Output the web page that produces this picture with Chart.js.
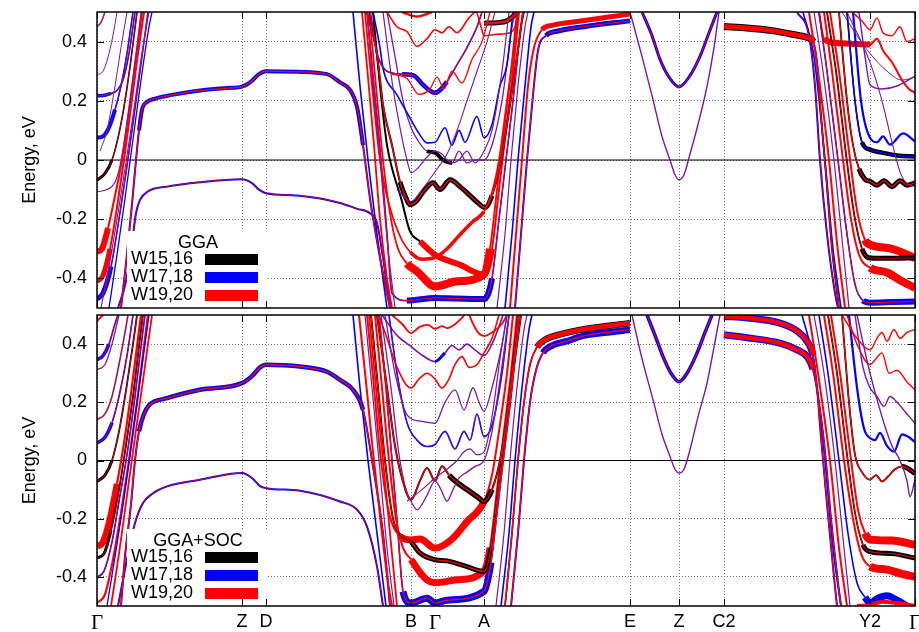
<!DOCTYPE html>
<html>
<head>
<meta charset="utf-8">
<script src="https://cdn.jsdelivr.net/npm/chart.js@4.4.1/dist/chart.umd.min.js"></script>
<style>
  body { margin: 0; background: #fff; }
  .panel { position: absolute; left: 0; width: 919px; }
</style>
</head>
<body>
<div class="panel" style="top:0;height:312px"><canvas id="ggaChart" width="919" height="312"></canvas></div>
<div class="panel" style="top:312px;height:320px"><canvas id="socChart" width="919" height="320"></canvas></div>
<script>
// Camino de puntos k y etiquetas
const kPoints = [0, 145, 169, 314, 338, 387, 533, 582, 627, 773, 818];
const kLabels = ["Γ", "Z", "D", "B", "Γ", "A", "E", "Z", "C2", "Y2", "Γ"];
const energyTicks = [-0.4, -0.2, 0, 0.2, 0.4];
const energyLabels = ["-0.4", "-0.2", "0", "0.2", "0.4"];
const seriesNames = ["W15,16", "W17,18", "W19,20"];
const panelTitles = ["GGA", "GGA+SOC"];

// ---- bandas GGA: [k, E(eV)] ----
const ggaFan1 = [[0,0.45],[4,0.465],[8,0.5]];
const ggaFan2 = [[0,0.288],[6,0.3],[12,0.36],[17,0.44],[20,0.5]];
const ggaFan3 = [[0,0.217],[8,0.219],[14,0.225],[20,0.235],[26,0.27],[32,0.36],[38,0.5]];
const ggaFan4 = [[0,0.075],[6,0.08],[12,0.11],[18,0.17],[24,0.25],[30,0.36],[36,0.5]];
const ggaFan5 = [[0,-0.068],[8,-0.045],[15,0],[22,0.09],[28,0.2],[34,0.34],[40,0.5]];
const ggaFan6 = [[0,-0.107],[10,-0.1],[18,-0.075],[23,-0.02],[28,0.08],[34,0.22],[40,0.38],[44,0.5]];
const ggaFan7 = [[0,-0.31],[5,-0.3],[11,-0.23],[18,-0.12],[25,0],[32,0.17],[39,0.35],[45,0.5]];
const ggaFan8 = [[0,-0.41],[6,-0.39],[13,-0.3],[20,-0.16],[27,0],[34,0.18],[41,0.36],[47,0.5]];
const ggaFan9 = [[0,-0.47],[6,-0.45],[14,-0.36],[22,-0.2],[30,-0.02],[37,0.15],[45,0.35],[51,0.5]];
const ggaFan10 = [[4,-0.5],[12,-0.36],[20,-0.2],[28,-0.03],[36,0.15],[44,0.34],[52,0.5]];
const ggaFan11 = [[12,-0.5],[20,-0.32],[28,-0.13],[36,0.07],[44,0.27],[52,0.45],[55,0.5]];
const ggaFan12 = [[3,0.03],[10,0.1],[18,0.25],[24,0.38],[30,0.5]];
const ggaCond = [[24,-0.5],[29,-0.35],[35,-0.15],[39,0],[42,0.1],[45,0.17],[50,0.196],[58,0.207],[75,0.22],[103,0.235],[130,0.243],[145,0.248],[154,0.265],[162,0.29],[169,0.3],[200,0.298],[230,0.29],[243,0.262],[253,0.237],[260,0.18],[266,0.05],[273,-0.13],[283,-0.33],[290,-0.45],[293,-0.5]];
const ggaVal = [[21,-0.5],[29,-0.41],[35,-0.28],[39,-0.18],[43,-0.135],[51,-0.106],[70,-0.09],[103,-0.075],[145,-0.065],[155,-0.078],[162,-0.1],[169,-0.112],[200,-0.12],[243,-0.145],[260,-0.165],[273,-0.18],[280,-0.213],[286,-0.33],[292,-0.47],[294,-0.5]];
const ggaWall1 = [[256,0.5],[263,0.25],[271,0],[280,-0.25],[290,-0.5]];
const ggaWall2 = [[265,0.5],[271,0.28],[277,0.05],[283,-0.2],[290,-0.4],[295,-0.5]];
const ggaWall3 = [[270,0.5],[276,0.25],[283,0],[291,-0.3],[298,-0.5]];
const ggaU1 = [[273,0.5],[281,0.33],[286,0.186],[295,0.05],[303,-0.074],[308,-0.12],[313,-0.151],[319,-0.14],[328,-0.1],[336,-0.077],[343,-0.1],[353,-0.067],[363,-0.09],[373,-0.12],[381,-0.145],[388,-0.161],[395,-0.12],[403,-0.02],[413,0.186],[420,0.35],[426,0.5]];
const ggaU2 = [[286,0.5],[296,0.244],[305,0.075],[310,0],[314,-0.043],[320,-0.03],[330,0.01],[338,0.03],[345,0.02],[350,0],[355,-0.01],[362,0],[370,0.03],[378,-0.01],[387,0.03],[395,0.1],[405,0.3],[412,0.5]];
const ggaU3 = [[276,0.5],[283,0.38],[286,0.31],[300,0.22],[313,0.142],[322,0.09],[330,0.058],[338,0.06],[348,0.109],[355,0.05],[362,0.1],[368,0.06],[380,0.147],[387,0.075],[395,0.12],[403,0.25],[410,0.322],[416,0.5]];
const ggaU4 = [[290,0.5],[298,0.35],[306,0.2],[314,0.11],[322,0.06],[330,0.03],[338,0.025],[346,0],[355,-0.01],[362,0.03],[370,-0.01],[378,0],[387,0],[395,0.05],[405,0.2],[415,0.45],[418,0.5]];
const ggaU5 = [[300,-0.1],[314,-0.14],[325,-0.1],[338,-0.04],[350,0.02],[360,0.1],[370,0.2],[380,0.3],[390,0.4],[398,0.5]];
const ggaU6 = [[270,0.5],[276,0.42],[282,0.34],[290,0.3],[305,0.29],[317,0.285],[326,0.254],[338,0.227],[350,0.265],[360,0.322],[370,0.38],[380,0.45],[385,0.5]];
const ggaU7 = [[295,0.29],[310,0.275],[322,0.222],[333,0.24],[340,0.28],[347,0.24],[355,0.3],[365,0.26],[375,0.34],[385,0.4],[393,0.5]];
const ggaU8 = [[290,0.5],[300,0.45],[310,0.434],[320,0.384],[330,0.41],[338,0.44],[345,0.43],[352,0.45],[360,0.43],[372,0.48],[379,0.5],[384,0.45],[387,0.42],[400,0.425],[413,0.43],[418,0.45],[422,0.5]];
const ggaU9 = [[305,0.5],[320,0.485],[335,0.5]];
const ggaU10 = [[276,0.5],[283,0.25],[290,0.05],[296,-0.04],[304,-0.128],[313,-0.241],[323,-0.275],[338,-0.32],[363,-0.354],[387,-0.387],[395,-0.3],[402,-0.1],[409,0.1],[416,0.3],[422,0.5]];
const ggaU11 = [[268,0.5],[275,0.25],[283,0],[292,-0.15],[302,-0.25],[313,-0.31],[325,-0.335],[338,-0.33],[350,-0.3],[363,-0.252],[375,-0.21],[387,-0.174],[395,-0.11],[402,0],[410,0.2],[418,0.4],[421,0.5]];
const ggaU12 = [[272,0.5],[279,0.25],[286,0],[294,-0.2],[301,-0.3],[310,-0.35],[320,-0.376],[338,-0.427],[360,-0.41],[387,-0.387],[393,-0.3],[400,-0.1],[407,0.1],[414,0.3],[420,0.5]];
const ggaU13 = [[270,0.5],[277,0.25],[284,0],[290,-0.25],[295,-0.45],[310,-0.475],[338,-0.466],[360,-0.468],[387,-0.47],[395,-0.4],[402,-0.2],[409,0],[416,0.2],[424,0.45],[427,0.5]];
const ggaR1 = [[413,-0.5],[419,-0.25],[425,0],[431,0.25],[437,0.38],[445,0.44],[455,0.455],[480,0.468],[510,0.482],[533,0.493]];
const ggaR2 = [[418,-0.5],[424,-0.25],[430,0],[436,0.22],[441,0.37],[449,0.42],[460,0.435],[490,0.452],[533,0.47]];
const ggaR3 = [[400,-0.5],[408,-0.25],[414,0],[421,0.25],[428,0.45],[431,0.5]];
const ggaR4 = [[408,-0.5],[415,-0.25],[421,0],[428,0.25],[434,0.45],[437,0.5]];
const ggaTopA = [[387,0.462],[400,0.464],[410,0.47],[416,0.485],[420,0.5]];
const ggaPar1 = [[545,0.5],[555,0.42],[563,0.34],[572,0.28],[582,0.247],[592,0.28],[603,0.35],[612,0.43],[620,0.5]];
const ggaPar2 = [[533,0.5],[545,0.35],[556,0.204],[565,0.08],[573,0],[578,-0.05],[582,-0.067],[587,-0.05],[593,0.02],[601,0.12],[610,0.249],[617,0.38],[622,0.5]];
const ggaFlat = [[627,0.451],[650,0.446],[675,0.437],[695,0.425],[710,0.414],[716,0.4],[720,0.33],[724,0.15],[729,-0.05],[735,-0.3],[742,-0.5]];
const ggaS1 = [[700,0.5],[712,0.42],[718,0.25],[723,0],[730,-0.25],[738,-0.45],[741,-0.5]];
const ggaS2 = [[706,0.5],[717,0.35],[728,0],[736,-0.3],[744,-0.5]];
const ggaS3 = [[712,0.5],[721,0.3],[732,0],[740,-0.28],[748,-0.5]];
const ggaS4 = [[717,0.5],[726,0.3],[737,0],[746,-0.3],[752,-0.5]];
const ggaF1 = [[722,0.5],[730,0.3],[741,0],[750,-0.25],[758,-0.42],[766,-0.475],[773,-0.482],[795,-0.48],[818,-0.478]];
const ggaF2 = [[727,0.5],[735,0.3],[746,0],[754,-0.2],[762,-0.32],[773,-0.364],[790,-0.38],[805,-0.41],[818,-0.432]];
const ggaF3 = [[730,0.5],[739,0.3],[749,0.02],[757,-0.18],[765,-0.3],[773,-0.331],[795,-0.332],[818,-0.331]];
const ggaF4 = [[733,0.5],[742,0.3],[752,0.03],[760,-0.17],[768,-0.27],[773,-0.286],[795,-0.3],[818,-0.331]];
const ggaF5 = [[742,0.5],[750,0.2],[756,0.05],[762,-0.03],[768,-0.065],[773,-0.072],[780,-0.085],[787,-0.07],[795,-0.09],[803,-0.07],[810,-0.085],[818,-0.077]];
const ggaF6 = [[750,0.5],[758,0.2],[765,0.06],[773,0.035],[785,0.025],[800,0.015],[818,0.012]];
const ggaF7 = [[756,0.5],[764,0.2],[773,0.075],[780,0.06],[786,0.08],[793,0.052],[806,0.09],[818,0.063]];
const ggaF8 = [[762,0.5],[768,0.35],[773,0.254],[785,0.24],[800,0.25],[818,0.283]];
const ggaF9 = [[750,0.5],[773,0.33],[785,0.2],[795,0.06],[803,-0.04],[810,-0.08],[818,-0.089]];
const ggaF10 = [[722,0.5],[727,0.41],[740,0.395],[760,0.392],[773,0.39],[780,0.41],[786,0.37],[795,0.33],[805,0.27],[812,0.24],[818,0.227]];
const ggaF11 = [[755,0.5],[765,0.47],[773,0.44],[780,0.48],[786,0.43],[795,0.42],[803,0.45],[810,0.4],[818,0.41]];
const ggaF12 = [[745,0.5],[760,0.42],[773,0.36],[790,0.3],[805,0.27],[818,0.28]];

// ---- bandas GGA+SOC ----
const socFan1 = [[0,0.478],[3,0.49],[6,0.5]];
const socFan2 = [[0,0.346],[6,0.36],[12,0.4],[18,0.47],[21,0.5]];
const socFan3 = [[0,0.312],[8,0.33],[15,0.4],[22,0.5]];
const socFan4 = [[0,0.14],[8,0.16],[15,0.22],[22,0.33],[28,0.44],[31,0.5]];
const socFan5 = [[0,0.06],[8,0.08],[15,0.13],[22,0.22],[30,0.36],[36,0.5]];
const socFan6 = [[0,-0.072],[8,-0.05],[15,0],[22,0.1],[29,0.24],[36,0.4],[40,0.5]];
const socFan7 = [[0,-0.296],[6,-0.28],[13,-0.2],[20,-0.08],[27,0.06],[34,0.23],[41,0.42],[44,0.5]];
const socFan8 = [[0,-0.335],[7,-0.32],[14,-0.24],[21,-0.12],[28,0.03],[36,0.22],[43,0.42],[46,0.5]];
const socFan9 = [[0,-0.4],[7,-0.38],[15,-0.28],[22,-0.14],[30,0.02],[38,0.22],[45,0.42],[48,0.5]];
const socFan10 = [[0,-0.49],[8,-0.46],[16,-0.34],[24,-0.18],[32,0],[40,0.2],[48,0.42],[51,0.5]];
const socFan11 = [[10,-0.5],[18,-0.33],[27,-0.13],[35,0.07],[44,0.3],[52,0.5]];
const socFan12 = [[14,-0.5],[22,-0.32],[30,-0.12],[38,0.08],[47,0.3],[55,0.5]];
const socCond = [[24,-0.5],[28,-0.33],[34,-0.15],[38,0],[42,0.1],[47,0.16],[52,0.19],[70,0.214],[103,0.243],[145,0.266],[155,0.29],[163,0.32],[169,0.329],[203,0.323],[230,0.305],[243,0.277],[256,0.243],[266,0.174],[276,-0.02],[286,-0.25],[293,-0.5]];
const socVal = [[21,-0.5],[30,-0.34],[38,-0.215],[46,-0.146],[55,-0.115],[70,-0.089],[103,-0.066],[145,-0.043],[155,-0.06],[163,-0.088],[169,-0.095],[203,-0.104],[243,-0.141],[260,-0.169],[270,-0.227],[280,-0.364],[286,-0.5]];
const socWall1 = [[256,0.5],[263,0.25],[271,0],[280,-0.25],[289,-0.5]];
const socWall2 = [[262,0.5],[269,0.27],[276,0.03],[284,-0.22],[291,-0.42],[295,-0.5]];
const socWall3 = [[268,0.5],[275,0.25],[282,0],[290,-0.3],[297,-0.5]];
const socWall4 = [[272,0.5],[279,0.25],[286,0],[293,-0.25],[300,-0.5]];
const socU1 = [[295,0.5],[305,0.47],[314,0.438],[323,0.46],[331,0.466],[338,0.452],[345,0.462],[350,0.455],[357,0.466],[365,0.49],[370,0.51],[376,0.47],[381,0.44],[387,0.428],[395,0.44],[405,0.47],[410,0.5]];
const socU2 = [[285,0.5],[300,0.43],[314,0.392],[326,0.36],[338,0.34],[348,0.37],[355,0.395],[362,0.38],[370,0.4],[378,0.38],[387,0.36],[395,0.4],[403,0.47],[406,0.5]];
const socU3 = [[282,0.5],[290,0.42],[300,0.32],[314,0.249],[322,0.28],[330,0.3],[338,0.28],[345,0.249],[352,0.28],[358,0.33],[365,0.357],[372,0.32],[380,0.33],[387,0.37],[395,0.42],[402,0.5]];
const socU4 = [[288,0.5],[298,0.3],[310,0.157],[324,0.135],[338,0.128],[348,0.2],[358,0.243],[367,0.174],[376,0.25],[382,0.2],[387,0.17],[395,0.25],[405,0.4],[410,0.5]];
const socU5 = [[292,0.5],[300,0.3],[310,0.13],[320,0.07],[330,0.048],[338,0.055],[348,0.1],[358,0.04],[367,0.1],[373,0.07],[380,0.16],[387,0.082],[395,0.12],[405,0.3],[412,0.5]];
const socU6 = [[310,-0.14],[325,-0.1],[338,-0.06],[350,-0.03],[360,0],[367,0.03],[373,0.04],[380,0.02],[387,0.03],[395,0.15],[403,0.35],[410,0.5]];
const socX1 = [[280,0.5],[290,0.25],[298,0.05],[305,-0.06],[314,-0.135],[323,-0.07],[330,-0.026],[338,-0.07],[345,-0.02],[352,-0.05],[358,-0.07],[370,-0.1],[380,-0.124],[387,-0.141],[395,-0.1],[403,0],[410,0.15],[418,0.35],[424,0.5]];
const socX2 = [[284,0.5],[294,0.25],[302,0.02],[309,-0.1],[314,-0.14],[320,-0.169],[330,-0.12],[338,-0.07],[344,-0.1],[350,-0.14],[356,-0.1],[362,-0.06],[370,-0.04],[378,-0.02],[387,0],[395,0.1],[404,0.3],[412,0.5]];
const socLowRed = [[270,0.5],[277,0.25],[284,0],[292,-0.18],[303,-0.26],[314,-0.273],[323,-0.27],[338,-0.301],[355,-0.27],[370,-0.21],[387,-0.141],[395,-0.05],[402,0.1],[410,0.3],[416,0.5]];
const socLowBlack = [[274,0.5],[281,0.25],[288,0],[296,-0.2],[305,-0.26],[314,-0.28],[323,-0.318],[338,-0.341],[350,-0.345],[370,-0.365],[387,-0.381],[394,-0.3],[401,-0.1],[408,0.1],[415,0.3],[421,0.5]];
const socBotRed = [[278,0.5],[285,0.25],[292,0],[299,-0.2],[306,-0.3],[314,-0.34],[322,-0.38],[330,-0.41],[338,-0.42],[360,-0.41],[387,-0.38],[393,-0.3],[400,-0.1],[407,0.1],[414,0.3],[420,0.5]];
const socBotBlue = [[282,0.5],[289,0.25],[295,0],[301,-0.25],[306,-0.45],[314,-0.49],[330,-0.473],[338,-0.49],[350,-0.48],[387,-0.45],[394,-0.35],[401,-0.15],[408,0.05],[415,0.25],[422,0.5]];
const socR1 = [[408,-0.5],[415,-0.25],[421,0],[427,0.2],[433,0.33],[440,0.39],[448,0.415],[465,0.435],[483,0.449],[510,0.462],[533,0.472]];
const socR2 = [[414,-0.5],[421,-0.25],[427,0],[433,0.2],[439,0.31],[446,0.37],[455,0.395],[470,0.41],[483,0.426],[510,0.44],[533,0.449]];
const socR3 = [[399,-0.5],[407,-0.25],[413,0],[420,0.25],[427,0.45],[430,0.5]];
const socR4 = [[404,-0.5],[412,-0.25],[418,0],[425,0.25],[432,0.45],[435,0.5]];
const socPar1 = [[550,0.5],[558,0.43],[566,0.357],[574,0.3],[582,0.271],[590,0.3],[600,0.369],[608,0.44],[615,0.5]];
const socPar2 = [[535,0.5],[545,0.35],[556,0.209],[565,0.09],[573,0.014],[578,-0.03],[582,-0.043],[587,-0.03],[593,0.037],[601,0.15],[610,0.266],[617,0.39],[623,0.5]];
const socFlat1 = [[627,0.495],[650,0.49],[683,0.472],[700,0.445],[710,0.41],[716,0.36],[720,0.25],[724,0.08],[730,-0.15],[737,-0.4],[740,-0.5]];
const socFlat2 = [[627,0.432],[650,0.422],[683,0.403],[700,0.38],[710,0.357],[716,0.314],[722,0.2],[728,0.03],[734,-0.2],[741,-0.42],[744,-0.5]];
const socS2 = [[705,0.5],[716,0.35],[728,0],[736,-0.3],[744,-0.5]];
const socS3 = [[712,0.5],[721,0.3],[733,0],[742,-0.3],[750,-0.5]];
const socS4 = [[717,0.5],[727,0.3],[738,0],[747,-0.3],[753,-0.5]];
const socF1 = [[722,0.5],[731,0.3],[742,0],[751,-0.25],[760,-0.42],[768,-0.47],[773,-0.49],[780,-0.475],[790,-0.465],[800,-0.48],[810,-0.5]];
const socF1b = [[760,-0.5],[773,-0.497],[785,-0.485],[800,-0.49],[818,-0.5]];
const socF2 = [[727,0.5],[736,0.3],[747,0],[756,-0.2],[764,-0.32],[773,-0.364],[790,-0.375],[805,-0.39],[818,-0.4]];
const socF3 = [[731,0.5],[740,0.3],[750,0.02],[758,-0.18],[766,-0.29],[773,-0.313],[795,-0.32],[818,-0.335]];
const socF4 = [[734,0.5],[743,0.3],[753,0.03],[761,-0.17],[768,-0.25],[773,-0.272],[795,-0.275],[818,-0.29]];
const socF5 = [[745,0.5],[752,0.2],[758,0.02],[765,-0.04],[773,-0.066],[779,-0.05],[785,-0.072],[791,-0.055],[798,-0.03],[805,-0.02],[812,-0.03],[818,-0.045]];
const socF6 = [[760,0.5],[773,0.3],[785,0.15],[795,0.05],[803,0],[810,-0.07],[813,-0.125],[818,-0.066]];
const socF7 = [[752,0.5],[760,0.25],[767,0.11],[773,0.077],[778,0.07],[783,0.095],[790,0.05],[797,0.03],[805,0.09],[812,0.08],[818,0.063]];
const socF8 = [[758,0.5],[766,0.32],[773,0.25],[780,0.22],[787,0.186],[793,0.22],[800,0.2],[810,0.16],[818,0.128]];
const socF9 = [[750,0.5],[760,0.4],[773,0.33],[779,0.35],[785,0.37],[792,0.3],[800,0.31],[810,0.27],[818,0.243]];
const socF10 = [[745,0.5],[760,0.42],[773,0.38],[780,0.42],[785,0.44],[790,0.41],[797,0.45],[803,0.42],[810,0.44],[818,0.45]];

// colores
const BLACK = "#000000", BLUE = "#0000ff", RED = "#ff0000", PURPLE = "#7a16a6", WINE = "#a3124e";
const legendColors = [BLACK, BLUE, RED];

function band(data, color, width, opt) {
  return Object.assign({ data: data, color: color, width: width }, opt || {});
}

const ggaLayers = [
  band(ggaFan1, WINE, 1.5), band(ggaFan2, PURPLE, 1),
  band(ggaFan3, BLUE, 1.6, { fat: [0, 14, 3.5], inner: RED, innerWidth: 0.7 }),
  band(ggaFan4, BLUE, 1.6, { fat: [0, 14, 4], inner: PURPLE, innerWidth: 0.7 }),
  band(ggaFan5, BLACK, 1.6, { fat: [0, 10, 3], inner: RED, innerWidth: 0.7 }),
  band(ggaFan6, PURPLE, 1.2),
  band(ggaFan7, RED, 2, { fat: [0, 10, 6] }),
  band(ggaFan8, RED, 2, { fat: [0, 10, 5] }),
  band(ggaFan9, BLUE, 1.6, { fat: [0, 10, 5], inner: RED, innerWidth: 0.7 }),
  band(ggaFan10, PURPLE, 1.1), band(ggaFan11, BLUE, 1.3), band(ggaFan12, PURPLE, 1),
  band(ggaCond, BLUE, 2, { fat: [42, 262, 4], inner: RED, innerWidth: 1.2 }),
  band(ggaVal, BLUE, 2, { inner: RED, innerWidth: 0.7 }),
  band(ggaWall1, BLUE, 1.6), band(ggaWall2, RED, 1.8), band(ggaWall3, PURPLE, 1.2),
  band(ggaU1, BLACK, 2, { fat: [300, 392, 5], inner: RED, innerWidth: 1.3 }),
  band(ggaU2, PURPLE, 1.2), band(ggaU3, BLUE, 1.6),
  band(ggaU4, PURPLE, 1.3, { fat: [326, 350, 4, BLACK] }),
  band(ggaU5, PURPLE, 1.1),
  band(ggaU6, BLUE, 1.6, { fat: [300, 345, 4.5], inner: RED, innerWidth: 1 }),
  band(ggaU7, RED, 1.3), band(ggaU8, RED, 1.6), band(ggaU9, RED, 2.5),
  band(ggaU10, BLACK, 2, { shift: [318, RED], fat: [318, 390, 6] }),
  band(ggaU11, RED, 1.8, { fat: [305, 380, 3.5] }),
  band(ggaU12, RED, 1.8, { fat: [308, 392, 8] }),
  band(ggaU13, BLUE, 1.6, { fat: [300, 392, 6], inner: RED, innerWidth: 1 }),
  band(ggaR1, RED, 2, { fat: [440, 533, 5] }),
  band(ggaR2, BLUE, 2, { fat: [445, 533, 5], inner: RED, innerWidth: 1 }),
  band(ggaR3, PURPLE, 1.2), band(ggaR4, BLUE, 1.6),
  band(ggaTopA, BLACK, 5, { inner: RED, innerWidth: 2.5 }),
  band(ggaPar1, BLUE, 3, { inner: RED, innerWidth: 1 }),
  band(ggaPar2, PURPLE, 1.4),
  band(ggaFlat, BLACK, 1.8, { fat: [620, 716, 7], inner: RED, innerWidth: 1.2, innerFat: [620, 716, 5] }),
  band(ggaS1, BLUE, 2, { inner: RED, innerWidth: 0.7 }),
  band(ggaS2, BLUE, 1.6), band(ggaS3, RED, 2), band(ggaS4, PURPLE, 1.2),
  band(ggaF1, BLUE, 1.6, { fat: [760, 818, 6], inner: RED, innerWidth: 1 }),
  band(ggaF2, RED, 2, { fat: [765, 818, 8] }),
  band(ggaF3, BLACK, 1.8, { fat: [765, 818, 5], inner: RED, innerWidth: 0.8 }),
  band(ggaF4, RED, 2, { fat: [766, 818, 8] }),
  band(ggaF5, BLACK, 1.8, { fat: [760, 818, 5], inner: RED, innerWidth: 1.2 }),
  band(ggaF6, BLACK, 1.6, { fat: [765, 818, 4.5], inner: BLUE, innerWidth: 1.4 }),
  band(ggaF7, BLUE, 2.2), band(ggaF8, PURPLE, 1.4), band(ggaF9, PURPLE, 1.1),
  band(ggaF10, RED, 2, { fat: [725, 773, 6] }),
  band(ggaF11, RED, 1.4), band(ggaF12, PURPLE, 1)
];

const socLayers = [
  band(socFan1, RED, 2),
  band(socFan2, BLUE, 1.6, { fat: [0, 12, 3.5], inner: RED, innerWidth: 0.8 }),
  band(socFan3, PURPLE, 1.3), band(socFan4, WINE, 1.6),
  band(socFan5, BLUE, 1.6, { fat: [0, 14, 3.5], inner: RED, innerWidth: 0.8 }),
  band(socFan6, BLACK, 1.8, { fat: [0, 10, 3], inner: RED, innerWidth: 0.8 }),
  band(socFan7, RED, 2.2, { fat: [0, 14, 6.5] }),
  band(socFan8, BLACK, 1.8, { fat: [0, 8, 3], inner: RED, innerWidth: 0.7 }),
  band(socFan9, BLUE, 1.6, { inner: RED, innerWidth: 0.7 }),
  band(socFan10, RED, 2.2), band(socFan11, BLUE, 1.3), band(socFan12, RED, 1.8),
  band(socCond, BLUE, 2, { fat: [42, 262, 4.5], inner: RED, innerWidth: 1.3 }),
  band(socVal, BLUE, 2, { inner: RED, innerWidth: 0.7 }),
  band(socWall1, BLUE, 1.6), band(socWall2, RED, 2), band(socWall3, PURPLE, 1.2), band(socWall4, RED, 1.8),
  band(socU1, RED, 1.8),
  band(socU2, PURPLE, 1.6, { fat: [330, 345, 3, BLUE] }),
  band(socU3, RED, 1.6), band(socU4, PURPLE, 1.3),
  band(socU5, BLUE, 1.6, { inner: PURPLE, innerWidth: 0.7 }),
  band(socU6, PURPLE, 1.2),
  band(socX1, BLACK, 2, { fat: [350, 392, 5.5], inner: RED, innerWidth: 1.2 }),
  band(socX2, PURPLE, 1.3),
  band(socLowRed, RED, 2, { fat: [303, 385, 7] }),
  band(socLowBlack, BLACK, 2, { fat: [310, 392, 5], inner: RED, innerWidth: 1.2 }),
  band(socBotRed, RED, 2, { fat: [308, 392, 7] }),
  band(socBotBlue, BLUE, 1.6, { fat: [305, 392, 7], inner: RED, innerWidth: 1.3 }),
  band(socR1, BLACK, 1.6, { fat: [440, 533, 6.5], inner: RED, innerWidth: 1.6, innerFat: [440, 533, 5] }),
  band(socR2, BLUE, 2, { fat: [446, 533, 6.5], inner: RED, innerWidth: 1.3 }),
  band(socR3, PURPLE, 1.2), band(socR4, BLUE, 1.6),
  band(socPar1, BLUE, 3.5, { inner: RED, innerWidth: 1 }),
  band(socPar2, PURPLE, 1.4),
  band(socFlat1, BLUE, 2, { fat: [620, 714, 7], inner: RED, innerWidth: 1.2, innerFat: [620, 714, 4.5] }),
  band(socFlat2, BLUE, 2, { fat: [620, 714, 7], inner: RED, innerWidth: 1.2, innerFat: [620, 714, 4.5] }),
  band(socS2, BLUE, 1.6), band(socS3, RED, 2), band(socS4, PURPLE, 1.2),
  band(socF1, BLUE, 1.6, { fat: [765, 818, 7] }),
  band(socF1b, RED, 4),
  band(socF2, RED, 2, { fat: [765, 818, 8] }),
  band(socF3, BLACK, 1.8, { fat: [765, 818, 5], inner: RED, innerWidth: 1 }),
  band(socF4, RED, 2, { fat: [766, 818, 8] }),
  band(socF5, BLACK, 1.8, { fat: [800, 818, 5], inner: RED, innerWidth: 1.2 }),
  band(socF6, PURPLE, 1.4), band(socF7, BLUE, 2.2), band(socF8, PURPLE, 1.4),
  band(socF9, RED, 1.4), band(socF10, RED, 1.4)
];

function inRange(r, x) {
  return r && x >= r[0] && x < r[1];
}

function buildDatasets(layers) {
  const sets = [];
  layers.forEach(layer => {
    const fat = layer.fat, shift = layer.shift, innerFat = layer.innerFat;
    sets.push({
      data: layer.data,
      borderColor: layer.color,
      borderWidth: layer.width,
      clip: 0,
      order: 10 + Math.max(layer.width, fat ? fat[2] : 0),
      segment: {
        borderWidth: c => inRange(fat, c.p0.parsed.x) ? fat[2] : undefined,
        borderColor: c => {
          if (inRange(fat, c.p0.parsed.x) && fat[3]) return fat[3];
          if (shift && c.p0.parsed.x >= shift[0]) return shift[1];
          return undefined;
        }
      }
    });
    if (layer.inner) {
      sets.push({
        data: layer.data,
        borderColor: layer.inner,
        borderWidth: layer.innerWidth,
        clip: 0,
        order: 1,
        segment: { borderWidth: c => inRange(innerFat, c.p0.parsed.x) ? innerFat[2] : undefined }
      });
    }
  });
  return sets;
}

// leyenda, eje cero, marcas y marco
function panelDecor(title, legendTop) {
  return {
    id: "panelDecor",
    beforeDatasetsDraw(chart) {
      const ctx = chart.ctx, a = chart.chartArea;
      const y0 = chart.scales.y.getPixelForValue(0);
      ctx.save();
      ctx.strokeStyle = "#000";
      ctx.lineWidth = 1;
      ctx.beginPath();
      ctx.moveTo(a.left, y0);
      ctx.lineTo(a.right, y0);
      ctx.stroke();
      ctx.restore();
    },
    afterDatasetsDraw(chart) {
      const ctx = chart.ctx, a = chart.chartArea;
      const xs = chart.scales.x, ys = chart.scales.y;
      ctx.save();
      ctx.fillStyle = "#fff";
      ctx.fillRect(127, legendTop, 140, a.bottom - legendTop);
      ctx.font = "18px 'Liberation Sans'";
      ctx.textBaseline = "middle";
      ctx.textAlign = "center";
      ctx.fillStyle = "#000";
      ctx.fillText(title, 198, legendTop + 12);
      ctx.textAlign = "right";
      seriesNames.forEach((name, i) => {
        const y = legendTop + 28.5 + i * 18;
        ctx.fillStyle = "#000";
        ctx.fillText(name, 193, y);
        ctx.fillStyle = legendColors[i];
        ctx.fillRect(205, y - 5.5, 53, 11);
      });
      ctx.strokeStyle = "#000";
      ctx.lineWidth = 1;
      ctx.beginPath();
      energyTicks.forEach(v => {
        const y = Math.round(ys.getPixelForValue(v)) + 0.5;
        ctx.moveTo(a.left, y); ctx.lineTo(a.left + 7, y);
        ctx.moveTo(a.right, y); ctx.lineTo(a.right - 7, y);
      });
      kPoints.forEach(k => {
        const x = Math.round(xs.getPixelForValue(k)) + 0.5;
        ctx.moveTo(x, a.top); ctx.lineTo(x, a.top + 7);
        ctx.moveTo(x, a.bottom); ctx.lineTo(x, a.bottom - 7);
      });
      ctx.stroke();
      ctx.lineWidth = 1.5;
      ctx.strokeRect(a.left, a.top, a.right - a.left, a.bottom - a.top);
      ctx.restore();
    }
  };
}

Chart.defaults.font.family = "'Liberation Sans', Arial, sans-serif";
Chart.defaults.color = "#000";

function makePanel(canvasId, layers, title, isBottom) {
  const padTop = isBottom ? 3 : 12;
  const axisHeight = isBottom ? 26 : 4;
  const legendTop = isBottom ? 217 : 231;
  return new Chart(document.getElementById(canvasId), {
    type: "line",
    data: { datasets: buildDatasets(layers) },
    options: {
      responsive: false,
      animation: false,
      events: [],
      layout: { padding: { top: padTop, right: 4, bottom: 0, left: 0 } },
      elements: {
        point: { radius: 0, hitRadius: 0 },
        line: { cubicInterpolationMode: "monotone", borderJoinStyle: "round", borderCapStyle: "butt", fill: false }
      },
      plugins: { legend: { display: false }, tooltip: { enabled: false } },
      scales: {
        x: {
          type: "linear",
          min: 0,
          max: 818,
          afterBuildTicks: s => { s.ticks = kPoints.map(v => ({ value: v })); },
          afterFit: s => { s.height = axisHeight; s.paddingLeft = 0; s.paddingRight = 0; },
          ticks: {
            display: isBottom,
            autoSkip: false,
            maxRotation: 0,
            padding: 5,
            color: "#000",
            callback: (v, i) => kLabels[i],
            font: c => kLabels[c.index] === "Γ"
              ? { family: "'Liberation Serif', 'DejaVu Serif', serif", size: 21 }
              : { family: "'Liberation Sans', Arial, sans-serif", size: 18 }
          },
          grid: { color: "#707070", lineWidth: 1, drawTicks: false },
          border: { display: false, dash: [1, 2] }
        },
        y: {
          min: -0.5,
          max: 0.5,
          afterBuildTicks: s => { s.ticks = energyTicks.map(v => ({ value: v })); },
          afterFit: s => { s.width = 97; s.paddingTop = 0; s.paddingBottom = 0; },
          ticks: {
            padding: 10,
            color: "#000",
            font: { size: 18 },
            callback: (v, i) => energyLabels[i]
          },
          title: {
            display: true,
            text: "Energy, eV",
            color: "#000",
            font: { size: 18 },
            padding: { top: 19, bottom: 0 }
          },
          grid: { color: "#707070", lineWidth: 1, drawTicks: false },
          border: { display: false, dash: [1, 2] }
        }
      }
    },
    plugins: [panelDecor(title, legendTop)]
  });
}

makePanel("ggaChart", ggaLayers, panelTitles[0], false);
makePanel("socChart", socLayers, panelTitles[1], true);
</script>
</body>
</html>
